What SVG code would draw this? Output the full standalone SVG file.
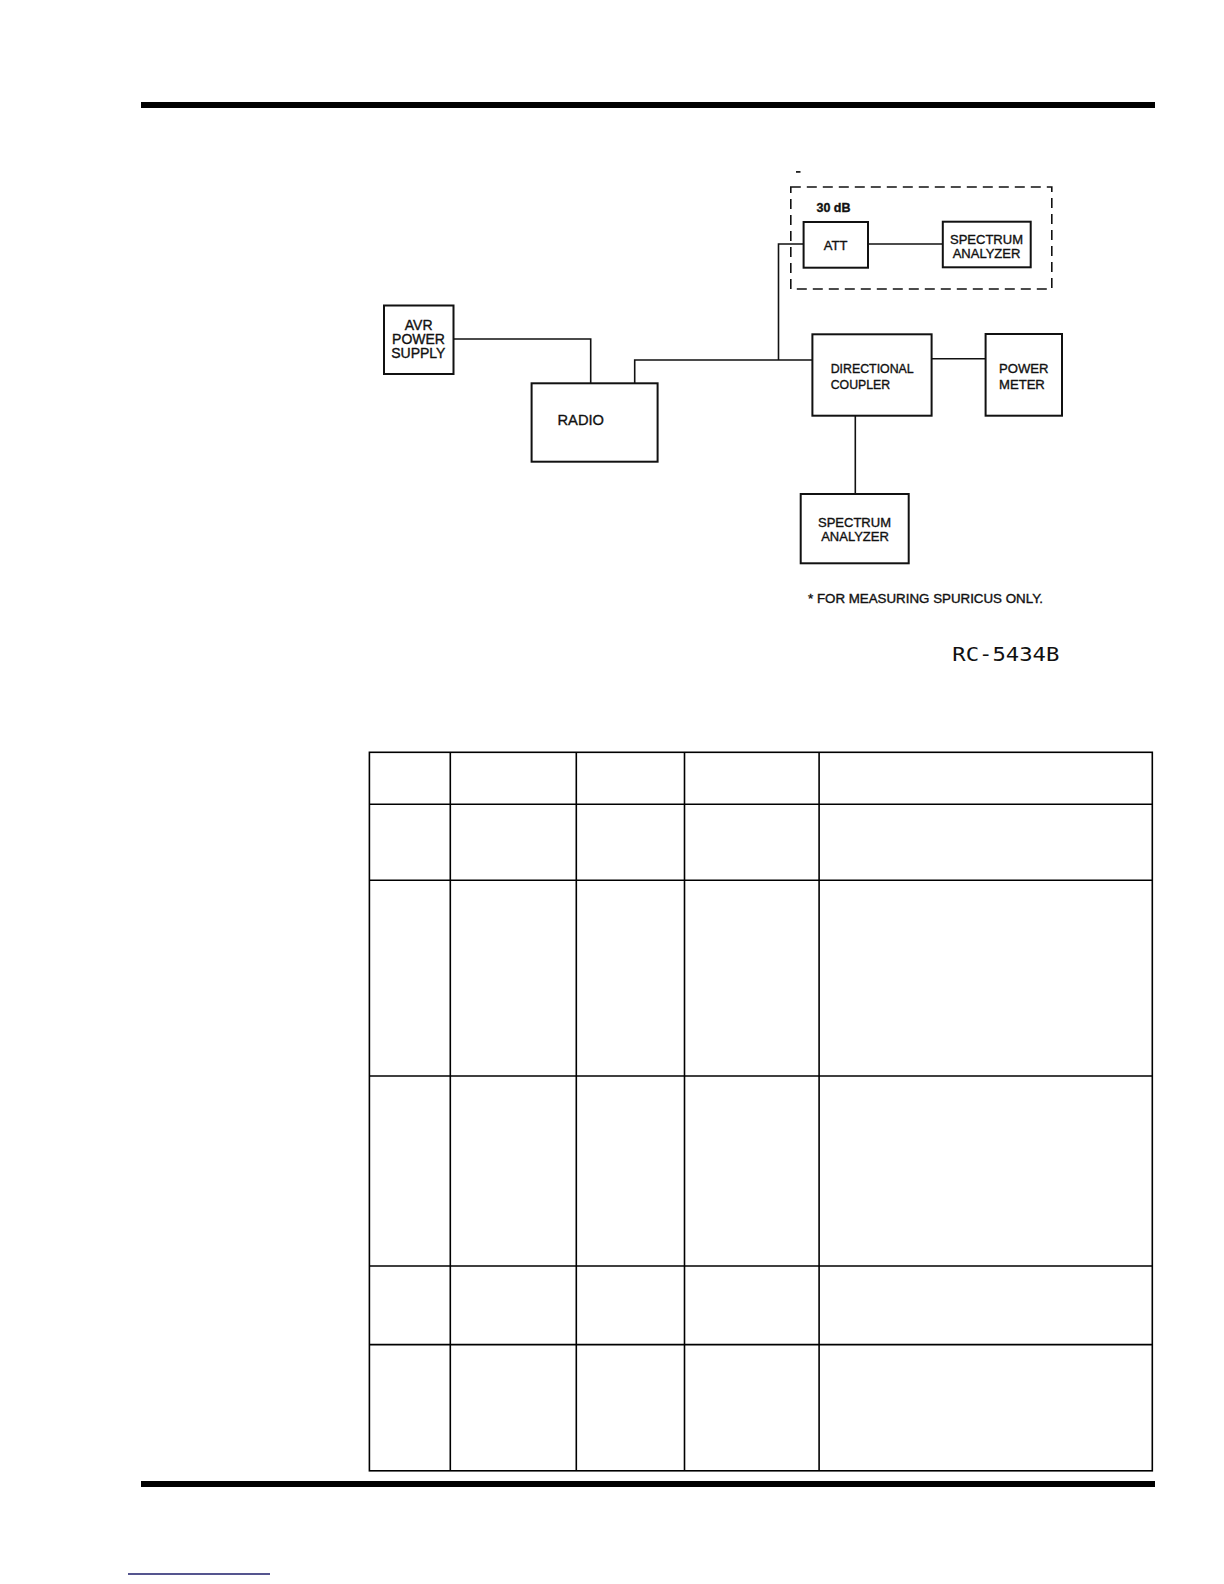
<svg xmlns="http://www.w3.org/2000/svg" width="1224" height="1584" viewBox="0 0 1224 1584">
<style>
.box{fill:#fff;stroke:#111;stroke-width:2}
.wire{fill:none;stroke:#111;stroke-width:1.6}
.dash{fill:none;stroke:#111;stroke-width:1.6;stroke-dasharray:10 6}
.t{font-family:"Liberation Sans",Arial,sans-serif;fill:#111;stroke:#111;stroke-width:0.35}
.c{text-anchor:middle}
.tbl{fill:none;stroke:#000;stroke-width:1.6}
</style>
<rect x="0" y="0" width="1224" height="1584" fill="#fff"/>
<rect x="141" y="102" width="1014" height="6" fill="#000"/>
<rect x="141" y="1481" width="1014" height="6" fill="#000"/>
<line x1="128" y1="1574" x2="270" y2="1574" stroke="#1c1c6a" stroke-width="1.6"/>
<rect x="796" y="171" width="4.5" height="1.8" fill="#222"/>

<g id="connectors">
<polyline class="wire" points="453.5,339 590.7,339 590.7,383.3"/>
<polyline class="wire" points="634.7,383.3 634.7,360 812.4,360"/>
<polyline class="wire" points="778.5,360 778.5,244 803.6,244"/>
<line class="wire" x1="868" y1="244" x2="942.8" y2="244"/>
<line class="wire" x1="931.6" y1="358.7" x2="985.6" y2="358.7"/>
<line class="wire" x1="855.3" y1="415.7" x2="855.3" y2="494"/>
</g>

<g id="optional-group">
<rect class="dash" x="790.8" y="187" width="261" height="102"/>
<text class="t" x="816.5" y="212.3" font-size="12.5" font-weight="bold" textLength="34" lengthAdjust="spacingAndGlyphs">30 dB</text>
</g>

<g id="att">
<rect class="box" x="803.6" y="222" width="64.4" height="45.7"/>
<text class="t c" x="835.6" y="250" font-size="13">ATT</text>
</g>

<g id="spectrum-analyzer-top">
<rect class="box" x="942.8" y="221.7" width="87.9" height="45.6"/>
<text class="t c" x="986.5" y="244" font-size="13">SPECTRUM</text>
<text class="t c" x="986.5" y="257.5" font-size="13">ANALYZER</text>
</g>

<g id="avr-power-supply">
<rect class="box" x="384" y="305.5" width="69.5" height="68.5"/>
<text class="t c" x="418.7" y="330" font-size="14">AVR</text>
<text class="t c" x="418.5" y="344.3" font-size="14">POWER</text>
<text class="t c" x="418.3" y="358.3" font-size="14">SUPPLY</text>
</g>

<g id="radio">
<rect class="box" x="531.6" y="383.3" width="126" height="78.4"/>
<text class="t" x="557.5" y="425" font-size="15.5" textLength="46.5" lengthAdjust="spacingAndGlyphs">RADIO</text>
</g>

<g id="directional-coupler">
<rect class="box" x="812.4" y="334.3" width="119.2" height="81.4"/>
<text class="t" x="830.7" y="373.3" font-size="12.3" textLength="83" lengthAdjust="spacingAndGlyphs">DIRECTIONAL</text>
<text class="t" x="830.7" y="389.3" font-size="12.3">COUPLER</text>
</g>

<g id="power-meter">
<rect class="box" x="985.6" y="334" width="76.4" height="81.7"/>
<text class="t" x="999" y="373.3" font-size="13.1">POWER</text>
<text class="t" x="999" y="389.3" font-size="13.1">METER</text>
</g>

<g id="spectrum-analyzer-bottom">
<rect class="box" x="800.7" y="494" width="108" height="69.3"/>
<text class="t c" x="854.5" y="526.7" font-size="13">SPECTRUM</text>
<text class="t c" x="855" y="540.7" font-size="13">ANALYZER</text>
</g>

<text class="t" x="808" y="602.7" font-size="12" textLength="235" lengthAdjust="spacingAndGlyphs">* FOR MEASURING SPURICUS ONLY.</text>
<text x="952.3" y="661" font-family="'DejaVu Sans Mono','Liberation Mono',monospace" font-size="19.5" fill="#111" textLength="107" lengthAdjust="spacingAndGlyphs">RC-5434B</text>

<g id="table">
<rect class="tbl" x="369.4" y="752.3" width="782.9" height="718.5"/>
<line class="tbl" x1="369.4" y1="804.3" x2="1152.3" y2="804.3"/>
<line class="tbl" x1="369.4" y1="880.3" x2="1152.3" y2="880.3"/>
<line class="tbl" x1="369.4" y1="1076" x2="1152.3" y2="1076"/>
<line class="tbl" x1="369.4" y1="1266" x2="1152.3" y2="1266"/>
<line class="tbl" x1="369.4" y1="1344.6" x2="1152.3" y2="1344.6"/>
<line class="tbl" x1="450.3" y1="752.3" x2="450.3" y2="1470.8"/>
<line class="tbl" x1="576.3" y1="752.3" x2="576.3" y2="1470.8"/>
<line class="tbl" x1="684.5" y1="752.3" x2="684.5" y2="1470.8"/>
<line class="tbl" x1="819.1" y1="752.3" x2="819.1" y2="1470.8"/>
</g>
</svg>
